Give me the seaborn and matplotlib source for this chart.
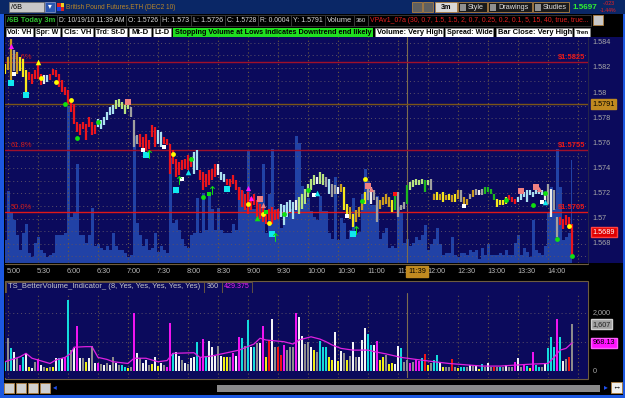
import numpy as np
import pandas as pd
import matplotlib
matplotlib.use("Agg")
import matplotlib.pyplot as plt
import matplotlib.transforms as mtrans
from matplotlib.patches import Rectangle
import seaborn as sns

# ---------------------------------------------------------------- data
BASE_PRICE = 1.5700          # bar prices are in pips (0.0001) above this
FIRST_BAR = "04:57"
BAR_MINUTES = 3

bar_high = [
    123.5, 128.8, 143.4, 134.0, 132.7, 128.8, 127.4, 118.1, 116.8, 115.5,
    118.1, 122.1, 115.5, 114.2, 114.2, 115.5, 119.5, 118.1, 115.5, 110.2,
    104.9, 102.2, 95.6, 91.6, 77.0, 75.6, 77.0, 75.6, 81.0, 77.0,
    74.3, 79.6, 78.3, 81.0, 85.0, 88.9, 90.3, 94.2, 95.6, 92.9,
    90.3, 91.6, 88.9, 78.3, 66.4, 67.7, 65.0, 67.7, 62.4, 74.3,
    73.0, 70.3, 69.0, 65.0, 63.7, 59.7, 54.4, 47.8, 45.1, 46.4,
    47.8, 50.4, 49.1, 53.0, 54.4, 38.5, 37.1, 35.8, 38.5, 39.8,
    43.8, 43.8, 37.1, 35.8, 31.8, 31.8, 34.5, 30.5, 25.2, 22.5,
    19.9, 21.2, 17.2, 19.9, 14.6, 11.9, 9.2, 6.6, 7.9, 9.2,
    6.6, 7.9, 11.9, 10.6, 13.2, 14.6, 13.2, 14.6, 17.2, 19.9,
    23.9, 27.8, 31.8, 34.5, 33.1, 37.1, 35.8, 33.1, 31.8, 27.8,
    26.5, 25.2, 27.8, 25.2, 11.9, 9.2, 3.9, 6.6, 9.2, 14.6,
    21.2, 27.8, 25.2, 22.5, 17.2, 14.6, 17.2, 19.9, 17.2, 14.6,
    21.2, 21.2, 10.6, 13.2, 26.5, 29.2, 30.5, 31.8, 30.5, 31.8,
    30.5, 30.5, 31.8, 19.9, 21.2, 19.9, 21.2, 18.5, 19.9, 18.5,
    19.9, 22.5, 22.5, 17.2, 15.9, 19.9, 22.5, 23.9, 22.5, 23.9,
    25.2, 25.2, 23.9, 19.9, 15.9, 14.6, 14.6, 17.2, 18.5, 17.2,
    15.9, 17.2, 19.9, 21.2, 22.5, 22.5, 21.2, 22.5, 23.9, 22.5,
    21.2, 27.8, 23.9, 22.5, 1.3, 1.3, 0.0, 2.6, 1.3, -4.0,
]
bar_low = [
    115.5, 118.1, 110.2, 118.0, 115.5, 118.0, 112.8, 98.2, 110.2, 107.5,
    111.5, 111.5, 106.2, 107.5, 108.8, 110.2, 114.2, 112.8, 104.9, 100.9,
    98.2, 91.6, 85.0, 75.6, 69.0, 66.4, 71.7, 62.4, 73.0, 66.4,
    67.7, 73.0, 71.7, 74.3, 78.3, 82.3, 83.6, 87.6, 88.9, 87.6,
    83.6, 87.6, 81.0, 57.0, 59.7, 57.0, 55.7, 54.4, 55.7, 65.0,
    57.0, 59.7, 57.0, 59.7, 58.4, 35.8, 43.8, 33.1, 34.5, 38.5,
    39.8, 38.5, 41.1, 35.8, 38.5, 30.5, 22.5, 25.2, 26.5, 30.5,
    33.1, 34.5, 30.5, 29.2, 26.5, 25.2, 27.8, 22.5, 14.6, 9.2,
    6.6, 3.9, 6.6, 10.6, 1.3, 0.0, -2.7, -4.0, -1.4, -4.0,
    -1.4, 0.0, 1.3, -5.4, 1.3, 5.2, 0.0, 6.6, 3.9, 7.9,
    11.9, 17.2, 22.5, 26.5, 27.8, 27.8, 26.5, 25.2, 19.9, 17.2,
    19.9, 19.9, 21.2, 6.6, 1.3, 0.0, -6.7, -2.7, 1.3, 6.6,
    11.9, 14.6, 11.9, 14.6, -2.7, 7.9, 10.6, 11.9, 9.2, 5.2,
    6.6, 1.3, 6.6, 7.9, 11.9, 22.5, 25.2, 26.5, 26.5, 27.8,
    21.2, 26.5, 22.5, 14.6, 14.6, 14.6, 13.2, 14.6, 14.6, 13.2,
    13.2, 15.9, 13.2, 11.9, 10.6, 15.9, 17.2, 18.5, 18.5, 18.5,
    19.9, 21.2, 19.9, 14.6, 9.2, 10.6, 10.6, 11.9, 14.6, 13.2,
    11.9, 13.2, 14.6, 17.2, 13.2, 18.5, 17.2, 19.9, 19.9, 18.5,
    14.6, 11.9, 1.3, 6.6, -14.7, -5.4, -8.0, -5.4, -8.0, -29.3,
]
# r red, y yellow, o gold, g gray, w white, c light cyan, l light green, d green
bar_color = ("yoogoyyyrr" "rrrwcrrrrr" "rrrrrrrrrr" "rcccccclll" "llgggrrrrr"
             "rccrrrrrrr" "rrrccrrrrr" "rwccrrrrrr" "rrrrrrrrrr" "rrcccccwll"
             "llllwllgcg" "gwoyyoyooo" "ygwggooooy" "dgggdlllll" "dlgoyoyoyo"
             "yogoogogwg" "ddddyyyyrr" "rccccccccc" "wgwggrrrrr")

volume = [
    360, 1130, 780, 670, 440, 210, 470, 610, 150, 90,
    320, 400, 210, 150, 90, 130, 150, 440, 440, 440,
    470, 2450, 720, 780, 1550, 440, 440, 320, 440, 860,
    260, 290, 240, 210, 260, 210, 470, 260, 210, 210,
    150, 90, 130, 1990, 630, 440, 260, 380, 210, 240,
    470, 170, 260, 210, 150, 1640, 630, 670, 520, 380,
    260, 240, 440, 470, 1010, 470, 1090, 520, 1050, 840,
    520, 860, 520, 470, 470, 470, 610, 520, 1180, 1130,
    860, 1760, 840, 840, 950, 950, 1550, 470, 1070, 1780,
    840, 820, 550, 900, 720, 840, 820, 1990, 1870, 1210,
    930, 1010, 820, 720, 670, 1050, 820, 820, 470, 380,
    1350, 360, 700, 630, 380, 520, 1010, 470, 490, 1070,
    1470, 1280, 900, 900, 1050, 380, 470, 550, 240, 260,
    240, 870, 800, 320, 380, 260, 320, 400, 360, 440,
    590, 210, 290, 380, 550, 290, 130, 150, 150, 400,
    130, 90, 150, 150, 130, 210, 170, 210, 60, 240,
    130, 290, 130, 130, 130, 150, 130, 210, 130, 130,
    320, 440, 130, 240, 170, 90, 670, 210, 150, 130,
    260, 780, 1180, 840, 1780, 1180, 360, 400, 470, 1607,
]
# c cyan, g gray, w white, m magenta, y yellow, r red
volume_color = ("cgcwgmcwyw" "gmwgygywcw" "mcgwmwgywg" "wmgwgwgwgc" "cygmwgwwgy"
                "wywgmmcwwg" "wgwwcmmcww" "wgwyygmwmc" "gcwcgwmyrw" "grrmgggmww"
                "ggwygcccyy" "wywgygwgww" "wccwmyygyy" "wwcggmgmmc" "rygccwyggr"
                "gyccgwgwyc" "gwgrgcgwgg" "mwgmcymccg" "wcccmcwgrg")

vol_avg_bar = [0, 5, 7, 9, 11, 13, 15, 17, 20, 22, 23, 27, 29, 31, 34, 36, 41, 43, 47, 51,
               54, 56, 63, 65, 69, 74, 78, 83, 85, 87, 89, 93, 96, 98, 102, 105, 107, 109, 112, 116,
               121, 123, 127, 132, 137, 143, 148, 154, 159, 165, 171, 176, 181, 183, 185, 187, 189]
vol_avg = [320, 490, 610, 440, 380, 320, 260, 380, 470, 610, 820, 840, 840, 470, 400, 320, 260, 440, 440, 320,
           360, 610, 630, 470, 520, 630, 720, 930, 1130, 1070, 1050, 1010, 930, 1070, 1180, 1100, 1010, 900, 780, 720,
           720, 670, 590, 470, 400, 320, 260, 210, 170, 170, 210, 240, 260, 470, 720, 780, 968.13]

signal_bar = [2, 3, 2, 11, 7, 12, 17, 22, 20, 24, 31, 41, 46, 47, 48, 53, 56, 58, 57, 59,
              61, 62, 66, 68, 69, 74, 81, 82, 81, 85, 86, 84, 87, 86, 88, 89, 90, 93, 101, 103,
              104, 114, 116, 117, 119, 120, 121, 122, 130, 153, 167, 172, 177, 178, 176, 180, 179, 180,
              184, 188, 189]
signal_pips = [137.5, 115.5, 108.3, 124.8, 98.2, 112.0, 108.8, 94.2, 91.6, 64.2, 77.0, 92.9, 54.9, 50.4,
               51.7, 57.0, 51.2, 30.5, 22.5, 31.8, 37.1, 47.8, 17.2, 19.9, 22.5, 23.9, 24.6, 16.7, 11.9,
               15.9, 10.6, 0.5, 5.3, 3.4, -3.2, -12.0, -14.7, 3.4, 22.5, 19.1, 20.4, 2.1, -12.0, -9.4,
               13.8, 31.8, 26.0, 23.9, 19.9, 10.0, 15.1, 21.7, 25.2, 23.9, 11.1, 20.4, 13.2, 13.2,
               -16.0, -6.2, -29.8]
signal_kind = ["mtri", "wsq", "csq", "ytri", "csq", "ydot", "ydot", "ydot", "gdot", "gdot",
               "gdot", "ssq", "wsq", "csq", "garr", "wsq", "ydot", "garr", "csq", "wsq",
               "ctri", "gdot", "gdot", "gsq", "garr", "csq", "mtri", "mtri", "ydot", "ssq",
               "stri", "gtri", "gsq", "ydot", "ydot", "csq", "garr", "gdot", "gdot", "wsq",
               "ctri", "wsq", "csq", "garr", "gdot", "ydot", "ssq", "stri", "rsq", "wsq",
               "gdot", "ssq", "ssq", "stri", "gdot", "gdot", "wsq", "ctri",
               "gdot", "ydot", "gdot"]

time_labels = ["5:00", "5:30", "6:00", "6:30", "7:00", "7:30", "8:00", "8:30", "9:00", "9:30",
               "10:00", "10:30", "11:00", "11:30", "12:00", "12:30", "13:00", "13:30", "14:00"]
price_ticks = [1.584, 1.582, 1.580, 1.578, 1.576, 1.574, 1.572, 1.570, 1.568]
price_tick_labels = ["1.584", "1.582", "1.58", "1.578", "1.576", "1.574", "1.572", "1.57", "1.568"]
fib_prices = [1.5825, 1.5755, 1.5705]
fib_pct = ["78.6%", "61.8%", "50.0%"]
prev_close = 1.5791
last_price = 1.5689
cursor_time = "11:39"
vol_ticks = [2000, 0]
vol_tick_labels = ["2,000", "0"]
last_volume_label = "1,607"
last_avg_label = "968.13"

# ---------------------------------------------------------------- setup
sns.set_theme(style="dark")
plt.rcParams['font.family'] = ['Liberation Sans', 'DejaVu Sans']

W, H = 625, 398
NAVY = '#0b0a5c'
GRIDC = '#6e5c3e'
FS = 5.2

def to_min(s):
    h, m = s.split(':')
    return (int(h) * 60 + int(m)) - 5 * 60

n = len(bar_high)
start = to_min(FIRST_BAR)
minutes = start + BAR_MINUTES * np.arange(n)
hi = BASE_PRICE + np.array(bar_high) * 1e-4
lo = BASE_PRICE + np.array(bar_low) * 1e-4

PRICE_COLORS = {'r': '#ec141c', 'y': '#f6e81c', 'o': '#cc9c1e', 'g': '#a0a0a0',
                'w': '#ececec', 'c': '#aae0f0', 'l': '#b8e480', 'd': '#1eb81e'}
VOL_COLORS = {'c': '#14dcdc', 'g': '#8c8c8c', 'w': '#f4f4f4', 'm': '#f014f0',
              'y': '#f0f014', 'r': '#f01414'}
SIG_STYLE = {'ydot': ('o', '#ffff00', 12), 'gdot': ('o', '#10e010', 12),
             'wsq': ('s', '#ffffff', 12), 'csq': ('s', '#10e8f0', 14),
             'ssq': ('s', '#f08080', 14), 'gsq': ('s', '#10e010', 12),
             'rsq': ('s', '#ff1010', 10), 'mtri': ('^', '#ff10ff', 14),
             'ytri': ('^', '#ffff00', 16), 'ctri': ('^', '#10e8f0', 16),
             'stri': ('^', '#f08080', 14), 'gtri': ('^', '#10e010', 16),
             'garr': (r'$\uparrow$', '#10e010', 40)}

fig = plt.figure(figsize=(W / 100, H / 100), dpi=100)
fig.patch.set_facecolor('black')
renderer = fig.canvas.get_renderer()

def px_axes(x0, y0, x1, y1, z):
    a = fig.add_axes([x0 / W, 1 - y1 / H, (x1 - x0) / W, (y1 - y0) / H])
    a.set_zorder(z)
    return a

bg = px_axes(0, 0, W, H, 0)
bg.set_xlim(0, W); bg.set_ylim(H, 0); bg.axis('off')

def R(x0, y0, x1, y1, fc, ec='none', lw=0.6, z=1):
    bg.add_patch(Rectangle((x0, y0), x1 - x0, y1 - y0, facecolor=fc, edgecolor=ec, linewidth=lw, zorder=z))

def T(x, y, s, c='#d0d0d0', fs=FS, ha='left', weight='normal', z=3, maxw=None):
    t = bg.text(x, y, s, color=c, fontsize=fs, ha=ha, va='center', fontweight=weight,
                fontstretch='condensed', zorder=z)
    if maxw is not None:
        w = t.get_window_extent(renderer).width
        if w > maxw:
            t.set_fontsize(fs * maxw / w)
    return t

# ---- header row 1
R(0, 0, W, 14, '#0a2766')
R(9, 2, 44, 12, '#c8c8c8', ec='#707070')
T(11, 7.2, '/6B', c='black')
R(45, 2, 55, 12, '#2a56b0', ec='#8090c0')
T(50, 7, '\u25be', c='white', ha='center', fs=6)
R(57, 3, 60.5, 7, '#e02020'); R(60.5, 3, 64, 7, '#f0d020'); R(57, 7, 60.5, 11, '#2040e0'); R(60.5, 7, 64, 11, '#e02020')
T(66, 7.5, 'British Pound Futures,ETH (DEC2 10)', c='#b8862a', fs=5.6, maxw=110)
R(412, 1.5, 422, 12, '#606060', ec='#b08040')
R(423, 1.5, 433, 12, '#606060', ec='#b08040')
R(435, 2, 457, 12, '#d8d8d8', ec='#b08040')
T(446, 7.2, '3m', c='black', ha='center', weight='bold')
for (x0, x1, s) in [(458, 487, 'Style'), (488, 532, 'Drawings'), (533, 569, 'Studies')]:
    R(x0, 2, x1, 12, '#1a1a1a', ec='#b08040')
    R(x0 + 2, 3.5, x0 + 8, 10.5, '#909090')
    T(x0 + 10, 7.2, s, c='#e0e0e0', maxw=x1 - x0 - 12)
T(573, 7.5, '1.5697', c='#30f030', fs=6.6, weight='bold', maxw=25)
T(603, 3.8, '-.023', c='#f02020', fs=3.8, maxw=14)
T(600, 10.6, '-1.44%', c='#f02020', fs=3.8, maxw=20)

# ---- header row 2
R(0, 14, W, 26.5, 'black')
cells = [(5, 57), (57, 126), (126, 160), (160, 191), (191, 225), (225, 258), (258, 291),
         (291, 325), (325, 354), (354, 368), (368, 591)]
for (x0, x1) in cells:
    R(x0, 15, x1, 26, 'black', ec='#3c3c3c', lw=0.6)
row2 = ['/6B Today 3m', 'D: 10/19/10 11:39 AM', 'O: 1.5726', 'H: 1.573', 'L: 1.5726',
        'C: 1.5728', 'R: 0.0004', 'Y: 1.5791', 'Volume', '360',
        'VPAv1_07a (30, 0.7, 1.5, 1.5, 2, 0.7, 0.25, 0.2, 0.1, 5, 15, 40, true, true...']
for (x0, x1), s in zip(cells, row2):
    c = '#30c030' if s.startswith('/6B') else ('#e82020' if s.startswith('VPA') else '#d8d8d8')
    T(x0 + 2, 20.7, s, c=c, fs=5.6, weight='bold' if s.startswith('/6B') else 'normal',
      maxw=x1 - x0 - 4)
R(593, 15, 603, 25, '#c8c8c8', ec='#b08040')

# ---- header row 3
R(0, 26.5, W, 37, 'black')
boxes = [('Vol: VH', 6, 33), ('Spr: W', 35, 60), ('Cls: VH', 62, 93), ('Trd: St-D', 95, 127),
         ('Mt-D', 129, 151), ('Lt-D', 153, 171)]
for s, x0, x1 in boxes:
    R(x0, 27.5, x1, 36.5, 'white', ec='#808080', lw=0.4)
    T((x0 + x1) / 2, 32.2, s, c='black', fs=5.6, ha='center', weight='bold', maxw=x1 - x0 - 3)
R(173, 27.5, 373, 36.5, '#20e020')
T(175, 32.2, 'Stopping Volume at Lows indicates Downtrend end likely', c='black', fs=5.6,
  weight='bold', maxw=196)
for s, x0, x1 in [('Volume: Very High', 375, 443), ('Spread: Wide', 445, 493),
                  ('Bar Close: Very High', 496, 572), ('Tren', 574, 590)]:
    R(x0, 27.5, x1, 36.5, 'white', ec='#808080', lw=0.4)
    T(x0 + 2, 32.2, s, c='black', fs=5.6, weight='bold', maxw=x1 - x0 - 3)

# ---- borders, lower header, scroll bar
R(0, 14, 3.5, H, '#1c58e0')
R(0, 394.5, W, H, '#1c58e0')
R(622.5, 14, W, H, '#1c58e0')
R(588, 37, 622.5, 263, NAVY)
bg.plot([588, 588], [37, 263], color='#24244a', lw=0.8, zorder=2)
R(5, 280.5, 588, 378.5, NAVY, ec=GRIDC, lw=0.8)
R(6, 281.5, 204, 292.5, NAVY, ec=GRIDC, lw=0.6)
R(204, 281.5, 222, 292.5, NAVY, ec=GRIDC, lw=0.6)
R(222, 281.5, 252, 292.5, NAVY, ec=GRIDC, lw=0.6)
T(8, 287, 'TS_BetterVolume_Indicator_ (8, Yes, Yes, Yes, Yes, Yes)', c='#c8c8c8', fs=5.6, maxw=194)
T(207, 287, '360', c='#c8c8c8', maxw=13)
T(224, 287, '429.375', c='#f020f0', maxw=26)
for k in range(4):
    R(4 + 12 * k, 383, 14 + 12 * k, 393, '#d0d0d0', ec='#b08040')
T(53, 388, '\u25c2', c='#2050f0', fs=6)
R(217, 384.5, 600, 392, '#8a8a8a')
T(604, 388, '\u25b8', c='#2050f0', fs=6)
R(611, 382, 622, 393, '#f0f0f0', ec='#b08040')
T(616.5, 387.5, '\u2194', c='black', ha='center', fs=6)
bg.plot([5, 588], [264, 264], color=GRIDC, lw=0.8, zorder=2)

# ---------------------------------------------------------------- price panel
XMIN, XMAX = -3, 580
PMIN, PMAX = 1.56646, 1.58447
axv = px_axes(5, 37, 588, 263, 1)
axp = px_axes(5, 37, 588, 263, 2)
for a in (axv, axp):
    a.set_xlim(XMIN, XMAX)
    a.set_xticks([]); a.set_yticks([])
    for sp in a.spines.values():
        sp.set_visible(False)
axv.set_facecolor(NAVY)
axp.set_facecolor('none')
axv.set_ylim(0, 3530)
axv.fill_between(minutes, volume, step='mid', color='#2142a6', lw=0)
axp.set_ylim(PMIN, PMAX)

tick_minutes = [to_min(s) for s in time_labels] + [to_min("14:30")]
for m in tick_minutes:
    axp.axvline(m, color=GRIDC, lw=0.8, ls=(0, (1, 2.5)), zorder=1)
for p in np.arange(1.567, 1.5845, 0.001):
    axp.axhline(p, color='#5a5068', lw=0.7, ls=(0, (1, 3)), zorder=1)

cur = to_min(cursor_time)
axp.axvline(cur, color='#7c6c50', lw=0.8, zorder=1)
axp.axhline(prev_close, color='#7a5418', lw=1.0, zorder=2)
for p, lab, c in zip(fib_prices, fib_pct, ['#a0102a', '#a0102a', '#e01818']):
    axp.axhline(p, color=c, lw=1.0, zorder=2)
    axp.text(XMIN + 6, p + 0.00007, lab, color='#d01818', fontsize=5.4, va='bottom', ha='left', zorder=3)
    axp.text(XMAX - 3, p + 0.00007, '$%.4f' % p, color='#e81818', fontsize=5.4,
             va='bottom', ha='right', zorder=3, fontweight='bold')

cols = [PRICE_COLORS[c] for c in bar_color]
axp.vlines(minutes, lo, hi, colors=cols, lw=1.6, zorder=4)

sig_min = start + BAR_MINUTES * np.array(signal_bar)
sig_price = BASE_PRICE + np.array(signal_pips) * 1e-4
for kind in SIG_STYLE:
    idx = [k for k, s in enumerate(signal_kind) if s == kind]
    if not idx:
        continue
    mk, c, s = SIG_STYLE[kind]
    axp.scatter(sig_min[idx], sig_price[idx], marker=mk, color=c, s=s, lw=0, zorder=5)

trp = mtrans.blended_transform_factory(axp.transAxes, axp.transData)
for p, lab in zip(price_ticks, price_tick_labels):
    axp.text(1.008, p, lab, transform=trp, color='#a8a8a8', fontsize=FS, va='center',
             ha='left', clip_on=False)
axp.text(1.008, prev_close, '1.5791', transform=trp, color='black', fontsize=FS, va='center',
         ha='left', clip_on=False, bbox=dict(boxstyle='square,pad=0.2', fc='#c08a20', ec='#c08a20'))
axp.text(1.008, last_price, '1.5689', transform=trp, color='white', fontsize=FS, va='center',
         ha='left', clip_on=False, bbox=dict(boxstyle='square,pad=0.2', fc='#e00000', ec='#ff4040'))

trx = mtrans.blended_transform_factory(axp.transData, bg.transData)
for lab in time_labels:
    axp.text(to_min(lab) - 1, 271.5, lab, transform=trx, color='#b8b8b8', fontsize=FS,
             va='center', ha='left', clip_on=False)
axp.text(cur + 1, 271.5, cursor_time, transform=trx, color='black', fontsize=FS, va='center',
         ha='left', clip_on=False, zorder=6,
         bbox=dict(boxstyle='square,pad=0.3', fc='#c08a20', ec='#c08a20'))

# ---------------------------------------------------------------- volume panel
axl = px_axes(5, 293, 588, 378, 2)
dfv = pd.DataFrame({'minute': minutes, 'volume': volume, 'kind': list(volume_color)})
sns.barplot(data=dfv, x='minute', y='volume', hue='kind', palette=VOL_COLORS,
            hue_order=list(VOL_COLORS), native_scale=True, width=0.6, dodge=False,
            errorbar=None, legend=False, saturation=1, linewidth=0, ax=axl)
ma_min = start + BAR_MINUTES * np.array(vol_avg_bar)
sns.lineplot(x=ma_min, y=vol_avg, color='#e020e0', lw=0.9, estimator=None, legend=False, ax=axl)
axl.set_facecolor(NAVY)
axl.set_xlim(XMIN, XMAX)
axl.set_ylim(-241, 2690)
axl.set_xticks([]); axl.set_yticks([])
axl.set_xlabel(''); axl.set_ylabel('')
for sp in axl.spines.values():
    sp.set_visible(False)
for m in tick_minutes:
    axl.axvline(m, color=GRIDC, lw=0.8, ls=(0, (1, 2.5)), zorder=0)
for v in (1000, 2000):
    axl.axhline(v, color='#5a5068', lw=0.7, ls=(0, (1, 3)), zorder=0)
axl.axvline(cur, color='#7c6c50', lw=0.8, zorder=0)
trl = mtrans.blended_transform_factory(axl.transAxes, axl.transData)
for v, lab in zip(vol_ticks, vol_tick_labels):
    axl.text(1.008, v, lab, transform=trl, color='#a8a8a8', fontsize=FS, va='center',
             ha='left', clip_on=False)
axl.text(1.008, volume[-1], last_volume_label, transform=trl, color='#202020', fontsize=FS,
         va='center', ha='left', clip_on=False,
         bbox=dict(boxstyle='square,pad=0.2', fc='#a0a0a0', ec='#d0d0d0'))
axl.text(1.008, vol_avg[-1], last_avg_label, transform=trl, color='black', fontsize=FS,
         va='center', ha='left', clip_on=False,
         bbox=dict(boxstyle='square,pad=0.2', fc='#ff10ff', ec='#ff60ff'))

fig.savefig('out.png', dpi=100, facecolor='black')
